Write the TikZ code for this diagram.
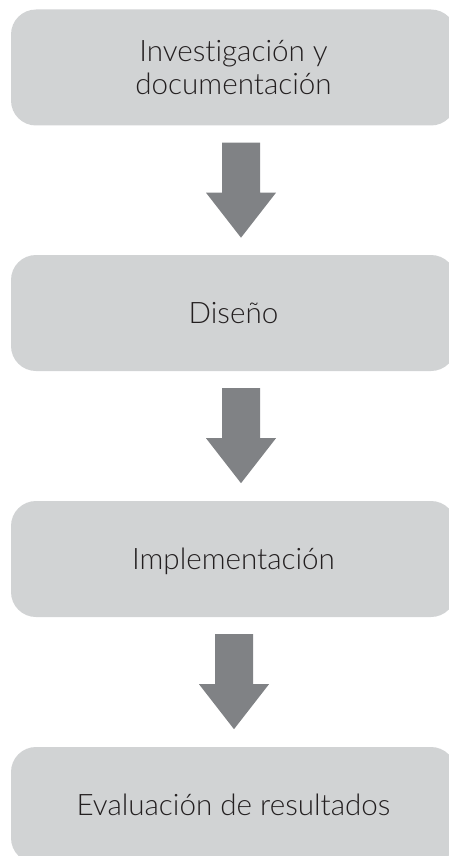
\documentclass[tikz,border=0pt]{standalone}
\usepackage{fontspec}
\setmainfont{Lato}[UprightFont=* Light, Ligatures=NoCommon]
\usetikzlibrary{calc}
\definecolor{boxgray}{HTML}{D1D3D4}
\definecolor{arrowgray}{HTML}{808285}
\definecolor{textdark}{HTML}{231F20}
\tikzset{
  stepbox/.style={fill=boxgray, draw=none, rounded corners=25pt,
    minimum width=445pt, minimum height=116pt, inner sep=0pt,
    text=textdark, align=center,
    font=\fontsize{29.6}{33}\selectfont, text height=21.5pt, text depth=0pt},
  twoline/.style={text height=54.5pt, text depth=0pt},
  blockarrow/.style={fill=arrowgray, draw=none}
}
\newcommand{\downarrowblock}[1]{%
  \fill[blockarrow] ($(#1)+(-19,0)$) -- ($(#1)+(19,0)$) -- ($(#1)+(19,50)$)
    -- ($(#1)+(35,50)$) -- ($(#1)+(0,95)$) -- ($(#1)+(-35,50)$)
    -- ($(#1)+(-19,50)$) -- cycle;}
\begin{document}
\begin{tikzpicture}[x=1pt,y=-1pt]
\useasboundingbox (0,0) rectangle (449,856);
\clip (0,0) rectangle (449,856);
\node[stepbox, twoline] (b1) at (233.5,67.5) {Investigación y\\documentación};
\node[stepbox] (b2) at (233.5,313) {Diseño};
\node[stepbox] (b3) at (233.5,559) {Implementación};
\node[stepbox] (b4) at (233.5,805) {Evaluación de resultados};
\coordinate (a1) at ($(b1.south)+(7.5,17)$);
\coordinate (a2) at ($(b2.south)+(7.5,17)$);
\coordinate (a3) at ($(b3.south)+(0.5,17)$);
\downarrowblock{a1}
\downarrowblock{a2}
\downarrowblock{a3}
\end{tikzpicture}
\end{document}
